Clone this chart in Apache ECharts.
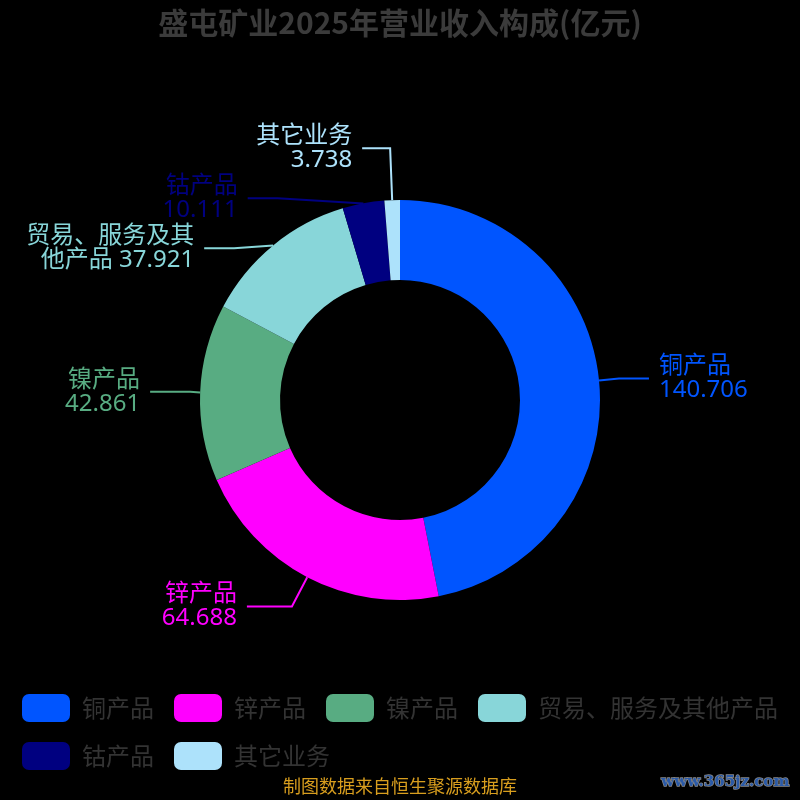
<!DOCTYPE html>
<html>
<head>
<meta charset="utf-8">
<title>盛屯矿业2025年营业收入构成</title>
<script src="https://cdn.jsdelivr.net/npm/echarts@6/dist/echarts.min.js"></script>
<style>
  html, body { margin: 0; padding: 0; background: #000; }
  #chart { width: 800px; height: 800px; }
</style>
</head>
<body>
<div id="chart"></div>
<script>
// revenue breakdown, 亿元
const categories = ['铜产品', '锌产品', '镍产品', '贸易、服务及其他产品', '钴产品', '其它业务']
const values = [140.706, 64.688, 42.861, 37.921, 10.111, 3.738]
const colors = ['#0055ff', '#ff00ff', '#58ac82', '#88d6d9', '#000080', '#ade2fb']

const chart = echarts.init(document.getElementById('chart'))

// long names get wrapped the way the source picture does it
const labelText = (p) => {
  const name = p.name
  if (name.length > 7) return name.slice(0, 7) + '\n' + name.slice(7) + ' ' + p.value
  return name + '\n' + p.value
}

// a few labels sit further out in the source
const lineTweaks = {
  '锌产品': { length: 33, length2: 45 },
  '镍产品': { length: 20, length2: 40 },
  '其它业务': { length: 52, length2: 28 }
}

chart.setOption({
  backgroundColor: '#000',
  color: colors,
  title: {
    text: '盛屯矿业2025年营业收入构成(亿元)',
    left: 'center',
    top: 3,
    textStyle: { color: '#3b3b3b', fontSize: 30, fontWeight: 'bold', fontFamily: 'Noto Sans CJK SC' }
  },
  legend: {
    left: 22,
    top: 694,
    padding: 0,
    itemWidth: 48,
    itemHeight: 28,
    itemGap: 20,
    icon: 'roundRect',
    textStyle: { color: '#333', fontSize: 24, padding: [0, 0, 0, 7], fontFamily: 'Noto Sans CJK SC' },
    data: categories
  },
  graphic: [
    {
      type: 'text',
      left: 'center',
      top: 777,
      style: { text: '制图数据来自恒生聚源数据库', fill: '#d89e1e', fontSize: 18, fontFamily: 'Noto Sans CJK SC' }
    },
    {
      type: 'text',
      right: 10,
      top: 774,
      style: {
        text: 'www.365jz.com', fill: '#2a5aa8', stroke: '#8a8a8a', lineWidth: 1.5,
        fontSize: 15, fontWeight: 'bold', fontFamily: 'DejaVu Serif'
      }
    }
  ],
  series: [{
    type: 'pie',
    center: ['50%', '50%'],
    radius: ['30%', '50%'],
    startAngle: 90,
    avoidLabelOverlap: true,
    label: {
      formatter: labelText,
      fontSize: 24,
      lineHeight: 24,
      fontFamily: '"Noto Sans", "Noto Sans CJK SC"',
      distanceToLabelLine: 10,
      color: 'inherit'
    },
    labelLine: { length: 20, length2: 30, lineStyle: { width: 2 } },
    data: categories.map((name, i) => ({
      name,
      value: values[i],
      label: { color: colors[i] },
      labelLine: lineTweaks[name] || {}
    }))
  }]
})
</script>
</body>
</html>
